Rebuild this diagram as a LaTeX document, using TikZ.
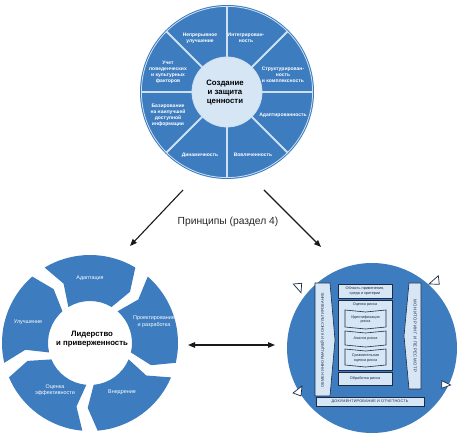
\documentclass[tikz,border=0pt]{standalone}
\usepackage{fontspec}
\setmainfont{Liberation Sans}
\usetikzlibrary{arrows.meta,calc}
\definecolor{segblue}{RGB}{60,124,191}
\definecolor{lightfill}{RGB}{214,230,244}
\definecolor{navy}{RGB}{28,42,72}
\definecolor{divline}{RGB}{205,225,242}
\tikzset{
  lbl/.style={text=white, font=\fontsize{5}{6}\selectfont\bfseries, align=center, inner sep=0pt},
  wlbl/.style={text=white, font=\fontsize{5.4}{6.6}\selectfont, align=center, inner sep=0pt},
  ctext/.style={text=black, font=\fontsize{7.8}{9}\selectfont\bfseries, align=center, inner sep=0pt},
  ptext/.style={text=navy, font=\fontsize{3.8}{4.5}\selectfont, align=center, inner sep=0pt},
  pbox/.style={fill=lightfill, draw=navy, line width=0.6pt},
  marker/.style={fill=white, draw=navy, line width=0.7pt, line join=miter},
  arr/.style={line width=1.1pt, draw=black!90, -{Triangle[length=7pt,width=5.5pt]}},
  darr/.style={line width=1.1pt, draw=black!90, {Triangle[length=7pt,width=5.5pt]}-{Triangle[length=7pt,width=5.5pt]}},
  segfill/.style={fill=segblue}
}
\begin{document}
\begin{tikzpicture}[x=1pt,y=1pt]
\useasboundingbox (0,0) rectangle (460,433);
% ---------- top circle ----------
\coordinate (T) at (227,341);
\fill[segfill] (T) circle[radius=87];
\draw[divline, line width=0.8pt] (T) circle[radius=85.6];
\foreach \a in {0,45,...,315}
  \draw[divline, line width=1.8pt] ($(T)+(\a:34)$) -- ($(T)+(\a:86)$);
\fill[lightfill] (T) circle[radius=35];
\draw[divline, line width=0.8pt] (T) circle[radius=35];
\node[ctext] (tc) at (225,340) {Создание\\и защита\\ценности};
\node[lbl] (t1) at (200,395) {Непрерывное\\улучшение};
\node[lbl] (t2) at (246,395) {Интегрирован-\\ность};
\node[lbl] (t3) at (283,358) {Структурирован-\\ность\\и комплексность};
\node[lbl] (t4) at (283,318) {Адаптированность};
\node[lbl] (t5) at (253,278) {Вовлеченность};
\node[lbl] (t6) at (200,278) {Динамичность};
\node[lbl] (t7) at (168,318) {Базирование\\на наилучшей\\доступной\\информации};
\node[lbl] (t8) at (168,361) {Учет\\поведенческих\\и культурных\\факторов};
% ---------- arrows from principles ----------
\coordinate (a1s) at (183,243);
\coordinate (a1e) at (130,187);
\coordinate (a2s) at (264,243);
\coordinate (a2e) at (321,186);
\draw[arr] (a1s) -- (a1e);
\draw[arr] (a2s) -- (a2e);
\node[font=\fontsize{10.3}{12}\selectfont, text=black!85, inner sep=0pt] (pr) at (228,211) {Принципы (раздел 4)};
% ---------- left wheel ----------
\begin{scope}[shift={(90,90)}]
\foreach \c in {90,18,-54,-126,-198} {
  \fill[segfill] ({\c+31}:88) arc[start angle={\c+31}, end angle={\c-31}, radius=88]
    -- ({\c-38}:65) -- ({\c-31}:42)
    arc[start angle={\c-31}, end angle={\c+31}, radius=42]
    -- ({\c+24}:65) -- cycle;
}
\end{scope}
\node[ctext] (lc) at (92,94) {Лидерство\\и приверженность};
\node[wlbl] (l1) at (90,155) {Адаптация};
\node[wlbl] (l2) at (154,111) {Проектирование\\и разработка};
\node[wlbl] (l3) at (122,41) {Внедрение};
\node[wlbl] (l4) at (55,43) {Оценка\\эффективности};
\node[wlbl] (l5) at (28,111) {Улучшение};
% ---------- double arrow ----------
\coordinate (d1) at (188,88);
\coordinate (d2) at (275,88);
\draw[darr] (d1) -- (d2);
% ---------- right circle : process ----------
\coordinate (P) at (372,85);
\fill[segfill] (P) circle[radius=85];
% left bar
\draw[pbox] (315,150) -- (330,150) -- (335,93) -- (330,37) -- (315,37) -- cycle;
\node[ptext, rotate=90, font=\fontsize{3.8}{4.5}\selectfont\addfontfeatures{LetterSpace=3}] (lb) at (322.5,93) {ОБМЕН ИНФОРМАЦИЕЙ И КОНСУЛЬТИРОВАНИЕ};
% right bar
\draw[pbox] (409,150) -- (421,150) -- (421,44) -- (409,44) -- (404,97) -- cycle;
\node[ptext, rotate=-90, font=\fontsize{4.3}{5}\selectfont\addfontfeatures{LetterSpace=12}] (rb) at (415,97) {МОНИТОРИНГ И ПЕРЕСМОТР};
% top box
\draw[pbox] (338,135) rectangle (392,149);
\node[ptext] (ob) at (365,142) {Область применения,\\среда и критерии};
% assessment
\draw[pbox] (338,63) rectangle (392,133);
\node[ptext] (oc) at (365,128) {Оценка риска};
\draw[pbox] (345,123) -- (365.5,121) -- (386,123) -- (386,106) -- (365.5,104) -- (345,106) -- cycle;
\node[ptext] (id) at (365.5,113.5) {Идентификация\\риска};
\draw[pbox] (345,102) -- (365.5,100) -- (386,102) -- (386,88) -- (365.5,86) -- (345,88) -- cycle;
\node[ptext] (an) at (365.5,94) {Анализ риска};
\draw[pbox] (345,84) -- (365.5,82) -- (386,84) -- (386,68) -- (365.5,66) -- (345,68) -- cycle;
\node[ptext] (sr) at (365.5,75) {Сравнительная\\оценка риска};
% treatment
\draw[pbox] (338,48) rectangle (392,61);
\node[ptext] (tr) at (365,54.5) {Обработка риска};
% bottom bar
\draw[pbox] (316,27) rectangle (424,36);
\node[ptext, font=\fontsize{3.8}{4.5}\selectfont\addfontfeatures{LetterSpace=4}] (dk) at (370,31.5) {ДОКУМЕНТИРОВАНИЕ И ОТЧЕТНОСТЬ};
% markers
\draw[marker] (293.3,149) -- (301.7,149.7) -- (301,140.3) -- cycle;
\draw[marker] (429,149) -- (438.3,157.3) -- (439.3,148.7) -- cycle;
\draw[marker] (441.7,52.3) -- (441.7,44.7) -- (450.7,48) -- cycle;
\draw[marker] (293,40) -- (302,47) -- (301,37) -- cycle;
\end{tikzpicture}
\end{document}
